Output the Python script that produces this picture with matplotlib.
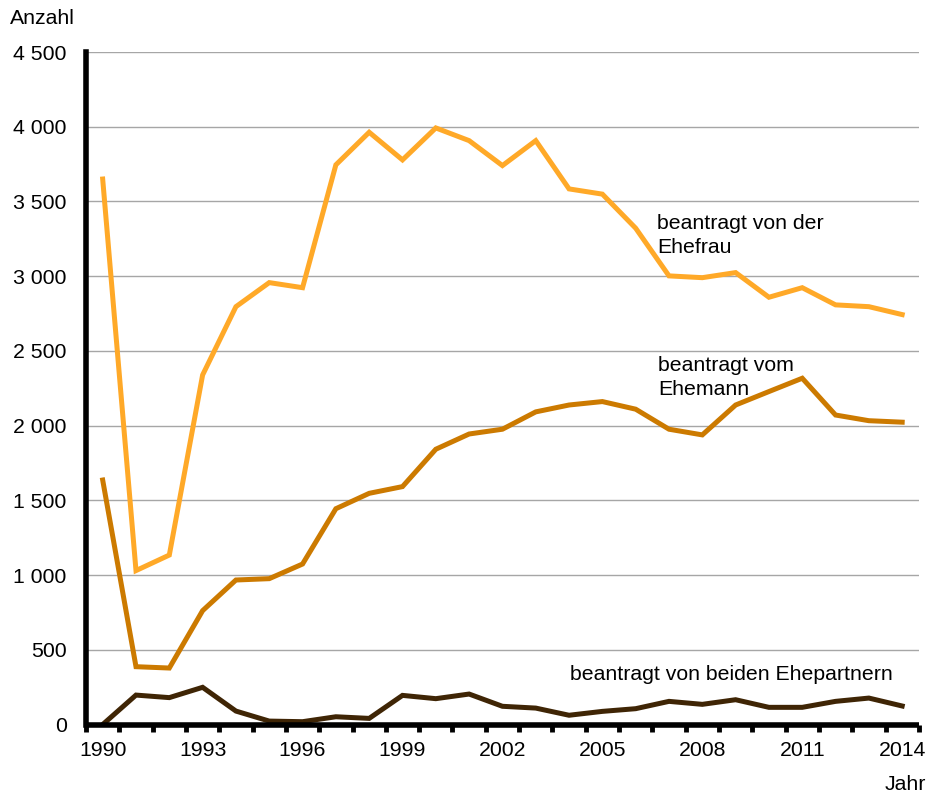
import matplotlib
matplotlib.use("Agg")
import matplotlib.pyplot as plt
from matplotlib.ticker import FixedLocator, FuncFormatter

plt.rcParams['font.family'] = ['Liberation Sans', 'DejaVu Sans']
FS = 15.3

# data
years = list(range(1990, 2015))
ehefrau = [3650, 1030, 1134, 2339, 2796, 2957, 2923, 3745, 3963, 3778,
           3992, 3907, 3740, 3907, 3584, 3549, 3321, 3002, 2990, 3024,
           2859, 2923, 2808, 2796, 2743]
ehemann = [1636, 387, 378, 762, 967, 976, 1074, 1444, 1547, 1592,
           1842, 1944, 1976, 2092, 2138, 2161, 2110, 1976, 1938, 2138,
           2228, 2317, 2071, 2033, 2023]
beide = [0, 197, 180, 249, 90, 23, 19, 52, 41, 195,
         173, 204, 122, 110, 62, 88, 106, 155, 135, 166,
         115, 115, 155, 177, 124]
labels = ["beantragt von der\nEhefrau", "beantragt vom\nEhemann",
          "beantragt von beiden Ehepartnern"]
colors = ["#FFA928", "#CC7A00", "#3F2505"]

fig = plt.figure(figsize=(9.3, 7.94), dpi=100)
ax = fig.add_axes([0.0925, 0.0875, 0.8955, 0.847])

x = list(range(len(years)))
for vals, c in zip([ehefrau, ehemann, beide], colors):
    ax.plot(x, vals, color=c, lw=3.6, solid_joinstyle='miter', zorder=3)

ax.set_xlim(-0.5, len(years) - 0.5)
ax.set_ylim(0, 4500)

# y axis
ax.set_yticks(range(0, 4501, 500))
ax.yaxis.set_major_formatter(FuncFormatter(lambda v, p: f"{int(v):,}".replace(",", " ")))
ax.tick_params(axis='y', length=0, pad=14, labelsize=FS)
ax.grid(axis='y', color='#A6A6A6', lw=1.0, zorder=0)

# x axis: category boundaries as tick marks, labels every 3 years
ax.xaxis.set_major_locator(FixedLocator([i for i in x if (years[i] - 1990) % 3 == 0]))
ax.set_xticklabels([str(years[i]) for i in x if (years[i] - 1990) % 3 == 0])
ax.xaxis.set_minor_locator(FixedLocator([i - 0.5 for i in range(len(years) + 1)]))
ax.tick_params(axis='x', which='major', length=0, pad=12, labelsize=FS)
ax.tick_params(axis='x', which='minor', length=5, width=3.5, color='black', direction='out')

for s in ['top', 'right']:
    ax.spines[s].set_visible(False)
for s in ['left', 'bottom']:
    ax.spines[s].set_linewidth(4)
    ax.spines[s].set_color('black')
    ax.spines[s].set_zorder(4)
ax.spines['bottom'].set_capstyle('butt')

# series labels
ax.text(16.65, 3270, labels[0], fontsize=FS, va='center', ha='left', linespacing=1.32)
ax.text(16.68, 2320, labels[1], fontsize=FS, va='center', ha='left', linespacing=1.32)
ax.text(14.04, 338, labels[2], fontsize=FS, va='center', ha='left')

fig.text(10 / 930, 1 - 19 / 794, "Anzahl", fontsize=FS, ha='left', va='center')
fig.text(926 / 930, 1 - 785 / 794, "Jahr", fontsize=FS, ha='right', va='center')

fig.savefig("out.png", dpi=100)
